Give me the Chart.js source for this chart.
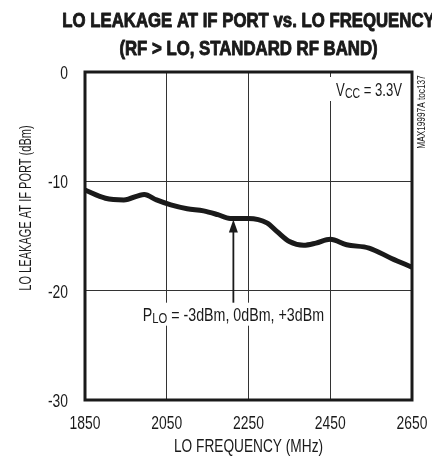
<!DOCTYPE html>
<html>
<head>
<meta charset="utf-8">
<script src="https://cdn.jsdelivr.net/npm/chart.js@4.4.1/dist/chart.umd.min.js"></script>
<style>
  html, body { margin: 0; padding: 0; background: #fff; }
  #wrap { width: 432px; height: 460px; position: relative; }
</style>
</head>
<body>
<div id="wrap"><canvas id="c" width="432" height="460"></canvas></div>
<script>
// ---- data ----
const freqMHz    = [1850, 1900, 1945, 1995, 2025, 2060, 2100, 2140, 2175, 2205, 2250, 2295, 2320, 2350, 2385, 2415, 2450, 2490, 2545, 2600, 2650];
const leakageDbm = [-10.8, -11.55, -11.7, -11.2, -11.7, -12.15, -12.5, -12.7, -13.05, -13.4, -13.4, -13.8, -14.6, -15.5, -15.85, -15.65, -15.3, -15.8, -16.1, -17.05, -17.85];
const xTickValues = [1850, 2050, 2250, 2450, 2650];
const yTickValues = [0, -10, -20, -30];
const titleLines = ['LO LEAKAGE AT IF PORT vs. LO FREQUENCY', '(RF > LO, STANDARD RF BAND)'];
const xAxisTitle = 'LO FREQUENCY (MHz)';
const yAxisTitle = 'LO LEAKAGE AT IF PORT (dBm)';
const sideLabel = 'MAX19997A toc137';
const vccLabel = { main: 'V', sub: 'CC', rest: ' = 3.3V' };
const arrowLabel = { main: 'P', sub: 'LO', rest: ' = -3dBm, 0dBm, +3dBm' };
const arrowFreq = 2213;      // MHz
const arrowTipDbm = -13.5;   // dBm
const arrowTailDbm = -21.1;  // dBm

const FONT = "'Liberation Sans', Arial, sans-serif";
const INK = '#1a1a1a';
const SX = 0.75;   // horizontal condensing (Helvetica Condensed look)

function condText(ctx, text, x, y, font, sx, align, baseline, strokeW) {
  ctx.save();
  ctx.translate(x, y);
  ctx.scale(sx, 1);
  ctx.font = font;
  ctx.textAlign = align || 'left';
  ctx.textBaseline = baseline || 'alphabetic';
  ctx.fillText(text, 0, 0);
  if (strokeW) {
    ctx.strokeStyle = ctx.fillStyle;
    ctx.lineWidth = strokeW;
    ctx.lineJoin = 'round';
    ctx.strokeText(text, 0, 0);
  }
  ctx.restore();
}

function drawSubText(ctx, parts, x, y, size, align) {
  ctx.save();
  const big = size + 'px ' + FONT;
  const small = Math.round(size * 0.8) + 'px ' + FONT;
  ctx.font = big; const w1 = ctx.measureText(parts.main).width * SX;
  ctx.font = small; const w2 = ctx.measureText(parts.sub).width * SX;
  ctx.font = big; const w3 = ctx.measureText(parts.rest).width * SX;
  const total = w1 + w2 + w3;
  const x0 = align === 'right' ? x - total : (align === 'center' ? x - total / 2 : x);
  ctx.fillStyle = INK;
  condText(ctx, parts.main, x0, y, big, SX);
  condText(ctx, parts.sub, x0 + w1, y + 2, small, SX);
  condText(ctx, parts.rest, x0 + w1 + w2, y, big, SX);
  ctx.restore();
}

const decorPlugin = {
  id: 'decor',
  beforeDatasetsDraw(chart) {
    const { ctx, chartArea: a, scales } = chart;
    // white patches behind annotation text (they interrupt the gridlines)
    ctx.save();
    ctx.fillStyle = '#fff';
    ctx.fillRect(a.right - 82, a.top + 5, 80, 24);
    const ax = scales.x.getPixelForValue(arrowFreq);
    const tailY = scales.y.getPixelForValue(arrowTailDbm);
    ctx.fillRect(ax - 93, tailY, 186, 23);
    ctx.restore();
  },
  afterDraw(chart) {
    const { ctx, chartArea: a, scales } = chart;
    const cx = (a.left + a.right) / 2;
    ctx.save();
    ctx.fillStyle = INK;

    // frame
    ctx.strokeStyle = INK;
    ctx.lineWidth = 3;
    ctx.strokeRect(a.left, a.top, a.right - a.left, a.bottom - a.top);

    // tick labels, placed through the chart's scales
    const tickFont = '18.5px ' + FONT;
    scales.y.ticks.forEach(t => {
      const y = scales.y.getPixelForValue(t.value);
      condText(ctx, String(t.value), a.left - 17, y + 2, tickFont, SX, 'right', 'middle');
    });
    scales.x.ticks.forEach(t => {
      const x = scales.x.getPixelForValue(t.value);
      condText(ctx, String(t.value), x, a.bottom + 24, tickFont, SX, 'center', 'middle');
    });

    // axis titles
    condText(ctx, xAxisTitle, cx, a.bottom + 47, '18.5px ' + FONT, 0.74, 'center', 'middle');
    ctx.save();
    ctx.translate(26, 208);
    ctx.rotate(-Math.PI / 2);
    condText(ctx, yAxisTitle, 0, 0, '17px ' + FONT, 0.65, 'center', 'middle');
    ctx.restore();

    // title (heavy condensed)
    condText(ctx, titleLines[0], cx, 22, 'bold 19.5px ' + FONT, 0.86, 'center', 'middle', 0.9);
    condText(ctx, titleLines[1], cx, 50, 'bold 19.5px ' + FONT, 0.86, 'center', 'middle', 0.9);

    // side label
    ctx.save();
    ctx.translate(422, a.top + 40);
    ctx.rotate(-Math.PI / 2);
    condText(ctx, sideLabel, 0, 0, '11px ' + FONT, 0.75, 'center', 'middle');
    ctx.restore();

    // Vcc label
    drawSubText(ctx, vccLabel, a.right - 10, a.top + 24, 17.5, 'right');

    // arrow
    const ax = scales.x.getPixelForValue(arrowFreq);
    const tipY = scales.y.getPixelForValue(arrowTipDbm);
    const tailY = scales.y.getPixelForValue(arrowTailDbm);
    ctx.strokeStyle = INK;
    ctx.lineWidth = 1.8;
    ctx.beginPath();
    ctx.moveTo(ax, tailY);
    ctx.lineTo(ax, tipY + 10);
    ctx.stroke();
    ctx.beginPath();
    ctx.moveTo(ax, tipY);
    ctx.lineTo(ax - 4.5, tipY + 13);
    ctx.lineTo(ax + 4.5, tipY + 13);
    ctx.closePath();
    ctx.fill();

    // arrow label
    drawSubText(ctx, arrowLabel, ax, tailY + 18, 19, 'center');
    ctx.restore();
  }
};

new Chart(document.getElementById('c'), {
  type: 'line',
  data: {
    datasets: [{
      data: freqMHz.map((f, i) => ({ x: f, y: leakageDbm[i] })),
      borderColor: INK,
      borderWidth: 5,
      pointRadius: 0,
      tension: 0.4,
      cubicInterpolationMode: 'monotone',
      fill: false
    }]
  },
  options: {
    responsive: false,
    animation: false,
    devicePixelRatio: 1,
    layout: { padding: { top: 72, right: 20, left: 0, bottom: 0 } },
    plugins: { legend: { display: false }, title: { display: false }, tooltip: { enabled: false } },
    scales: {
      x: {
        type: 'linear',
        min: 1850, max: 2650,
        afterBuildTicks: s => { s.ticks = xTickValues.map(v => ({ value: v })); },
        afterFit: s => { s.height = 60; s.paddingLeft = 0; s.paddingRight = 0; },
        grid: { color: '#333', lineWidth: 1, drawTicks: false },
        border: { display: false },
        ticks: { display: false }
      },
      y: {
        min: -30, max: 0,
        afterBuildTicks: s => { s.ticks = yTickValues.map(v => ({ value: v })); },
        afterFit: s => { s.width = 85; s.paddingTop = 0; s.paddingBottom = 0; },
        grid: { color: '#333', lineWidth: 1, drawTicks: false },
        border: { display: false },
        ticks: { display: false }
      }
    }
  },
  plugins: [decorPlugin]
});
</script>
</body>
</html>
